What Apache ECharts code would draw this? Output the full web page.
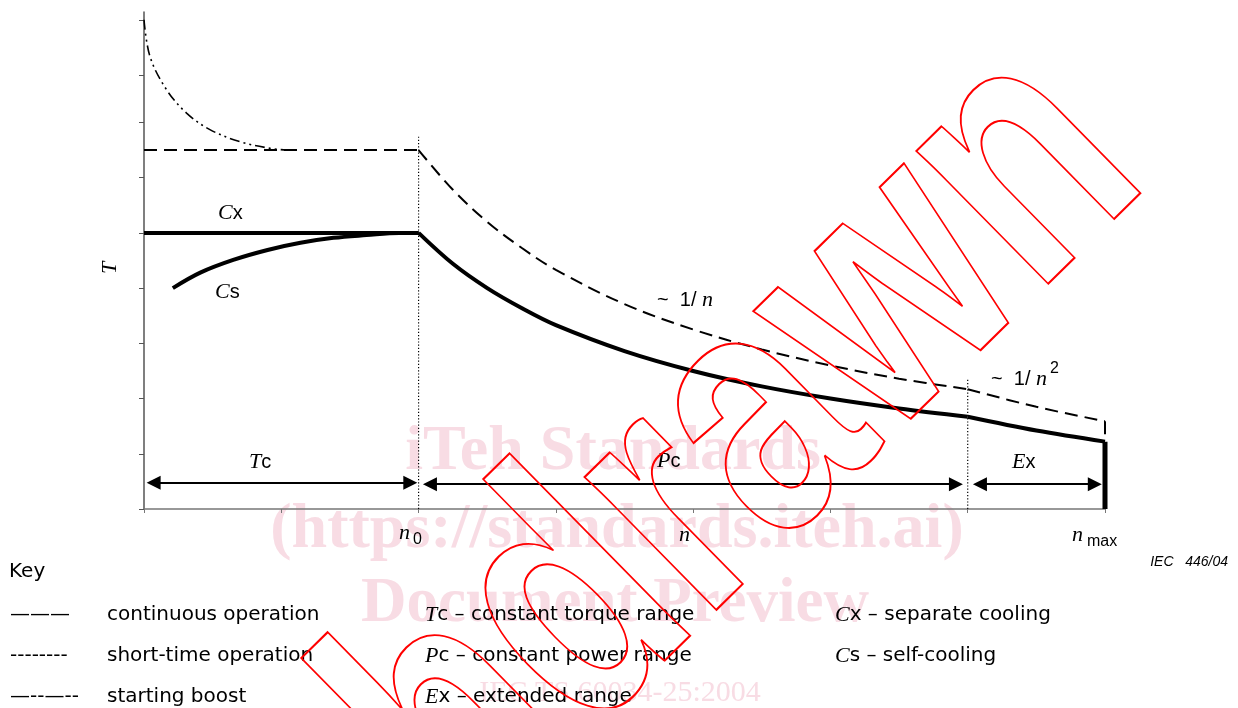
<!DOCTYPE html>
<html><head><meta charset="utf-8">
<script src="https://cdn.jsdelivr.net/npm/echarts@6/dist/echarts.min.js"></script>
<style>html,body{margin:0;padding:0;background:#fff}#c{width:1238px;height:708px}</style>
</head><body><div id="c"></div>
<script>
// ---- data (speed n in axis units, torque T in axis units) ----
const xTicks = [0, 1, 2, 3, 4, 5, 6, 7];
const yTicks = [0, 1, 2, 3, 4, 5, 6, 7, 7.85, 8.85];
const shortFlat = [[0, 6.5], [2, 6.5]];
const shortCurve = [[2, 6.5], [2.25, 5.78], [2.5, 5.2], [2.75, 4.73], [3, 4.33], [3.5, 3.71], [4, 3.25], [4.5, 2.89], [5, 2.6], [5.5, 2.36], [6, 2.17]];
const shortExt = [[6, 2.17], [6.5, 1.85], [7, 1.59]];
const shortEnd = [[7, 1.59], [7, 1.25]];
const contFlat = [[0, 5], [2, 5]];
const contCurve = [[2, 5], [2.25, 4.44], [2.5, 4.0], [2.75, 3.64], [3, 3.33], [3.5, 2.86], [4, 2.5], [4.5, 2.22], [5, 2.0], [5.5, 1.82], [6, 1.67]];
const contExt = [[6, 1.67], [6.5, 1.42], [7, 1.22]];
const contEnd = [[7, 1.22], [7, 0]];
const selfCool = [[0.21, 4.0], [0.41, 4.28], [0.65, 4.51], [0.9, 4.69], [1.14, 4.82], [1.38, 4.91], [1.62, 4.96], [1.86, 5.0], [2, 5.0]];
const boost = [[0, 8.86], [0.044, 8.19], [0.165, 7.59], [0.31, 7.17], [0.48, 6.87], [0.7, 6.65], [0.92, 6.53], [1.04, 6.5]];
const dividerN = [2, 6];
const dividerTop = [6.74, 2.37];
const rangeFrom = [0.07, 2.083, 6.089];
const rangeTo = [1.94, 5.914, 6.926];
const rangeLevel = [0.476, 0.45, 0.45];

const SERIF = "'Liberation Serif', 'Times New Roman', serif";
const SANS = "'Liberation Sans', Arial, sans-serif";
const LSANS = "'DejaVu Sans', sans-serif";
const chart = echarts.init(document.getElementById('c'), null, {renderer: 'canvas'});

function ln(data, style, smooth, z) {
  return {type: 'line', data: data, symbol: 'none', showSymbol: false, silent: true,
    smooth: smooth ? 0.35 : false, z: z || 3,
    lineStyle: Object.assign({color: '#000', width: 2, type: 'solid', cap: 'butt'}, style)};
}
const dashed = {type: [13, 7], width: 2};
const solidThick = {width: 4};
const series = [
  ln(shortFlat, dashed, false), ln(shortCurve, dashed, true), ln(shortExt, dashed, true), ln(shortEnd, dashed, false),
  ln(contFlat, solidThick, false), ln(contCurve, solidThick, true), ln(contExt, solidThick, true), ln(contEnd, {width: 5}, false),
  ln(selfCool, {width: 4}, true),
  ln(boost, {type: [10, 4, 2, 4, 2, 4], width: 1.6}, true)
];
dividerN.forEach((n, i) => series.push(ln([[n, 0], [n, dividerTop[i]]], {type: [1.2, 2], width: 1.2}, false, 2)));
series.push({
  type: 'lines', coordinateSystem: 'cartesian2d', silent: true, z: 4,
  symbol: ['triangle', 'triangle'], symbolSize: 14,
  lineStyle: {color: '#000', width: 2, opacity: 1, curveness: 0},
  data: rangeFrom.map((f, i) => ({coords: [[f, rangeLevel[i]], [rangeTo[i], rangeLevel[i]]]}))
});

function txt(x, y, text, rich, opt) {
  return Object.assign({type: 'text', x: x, y: y, silent: true, z: 50,
    style: {text: text, rich: rich, fill: '#000', align: 'left', textAlign: 'left', verticalAlign: 'middle', textVerticalAlign: 'middle'}}, opt || {});
}
const R = {
  i: {fontFamily: SERIF, fontStyle: 'italic', fontSize: 22, fill: '#000'},
  s: {fontFamily: SANS, fontSize: 20, fill: '#000'},
  l: {fontFamily: LSANS, fontSize: 20, fill: '#000'},
  sub: {fontFamily: SANS, fontSize: 16, fill: '#000'}
};
const pink = '#f8dce4';
const wm = (x, y, t, size, weight) => ({type: 'text', x: x, y: y, silent: true, z: -5,
  style: {text: t, fill: pink, font: (weight || 'bold') + ' ' + size + 'px ' + SERIF,
    align: 'center', textAlign: 'center', verticalAlign: 'middle', textVerticalAlign: 'middle'}});

const graphic = [
  wm(613, 452, 'iTeh Standards', 64), wm(617, 530, '(https://standards.iteh.ai)', 64),
  wm(615, 605, 'Document Preview', 63), wm(620, 693, 'IEC TS 60034-25:2004', 30, 'normal'),
  txt(218, 213, '{i|C}{s|x}', R), txt(215, 292, '{i|C}{s|s}', R),
  txt(249, 462, '{i|T}{s|c}', R), txt(657, 461, '{i|P}{s|c}', R), txt(1012, 462, '{i|E}{s|x}', R),
  txt(657, 300, '{s|~  1/ }{i|n}', R), txt(991, 379, '{s|~  1/ }{i|n}', R), txt(1050, 369, '{sub|2}', R),
  txt(110, 268, '{i|T}', R, {rotation: Math.PI / 2, style: {text: '{i|T}', rich: R, align: 'center', textAlign: 'center', verticalAlign: 'middle', textVerticalAlign: 'middle'}}),
  txt(399, 533, '{i|n}', R), txt(413, 540, '{sub|0}', R),
  txt(679, 535, '{i|n}', R),
  txt(1072, 535, '{i|n}', R), txt(1087, 542, '{sub|max}', R),
  {type: 'text', x: 1228, y: 562, silent: true, z: 50, style: {text: 'IEC   446/04', fill: '#000', font: 'italic 14px ' + SANS, align: 'right', textAlign: 'right', verticalAlign: 'middle', textVerticalAlign: 'middle'}},
  txt(9, 572, '{l|Key}', R),
  txt(10, 615, '{l|———}', R), txt(107, 615, '{l|continuous operation}', R),
  txt(10, 656, '{l|--------}', R), txt(107, 656, '{l|short-time operation}', R),
  txt(10, 697, '{l|—--—--}', R), txt(107, 697, '{l|starting boost}', R),
  txt(425, 615, '{i|T}{l|c – constant torque range}', R),
  txt(425, 656, '{i|P}{l|c – constant power range}', R),
  txt(425, 697, '{i|E}{l|x – extended range}', R),
  txt(835, 615, '{i|C}{l|x – separate cooling}', R),
  txt(835, 656, '{i|C}{l|s – self-cooling}', R),
  {type: 'text', x: 1208, y: 238, rotation: 44.5 * Math.PI / 180, scaleX: 0.9, scaleY: 1.18, silent: true, z: 100,
    style: {text: 'Withdrawn', font: 'bold 300px ' + SANS, fill: 'transparent', stroke: '#ff0000', lineWidth: 1.8,
      align: 'right', textAlign: 'right', verticalAlign: 'bottom', textVerticalAlign: 'bottom'}}
];

chart.setOption({
  animation: false,
  backgroundColor: '#fff',
  grid: {left: 144, right: 133, top: 12, bottom: 199, containLabel: false},
  xAxis: {type: 'value', min: 0, max: 7, interval: 1,
    axisLine: {show: true, onZero: false, lineStyle: {color: '#777', width: 1.5}},
    axisTick: {show: true, inside: false, length: 4, lineStyle: {color: '#777', width: 1}, customValues: xTicks},
    axisLabel: {show: false}, splitLine: {show: false}},
  yAxis: {type: 'value', min: 0, max: 9,
    axisLine: {show: true, onZero: false, lineStyle: {color: '#555', width: 1.5}},
    axisTick: {show: true, inside: false, length: 5, lineStyle: {color: '#555', width: 1}, customValues: yTicks},
    axisLabel: {show: false}, splitLine: {show: false}},
  series: series,
  graphic: graphic
});
</script></body></html>
